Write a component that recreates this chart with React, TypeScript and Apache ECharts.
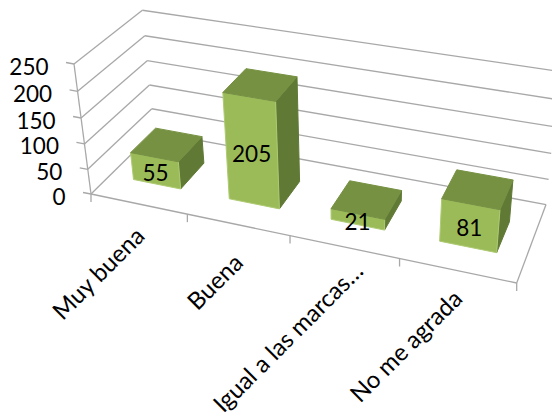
import React, { useEffect, useRef } from "react";
import * as echarts from "echarts";

const CATEGORIES = ["Muy buena", "Buena", "Igual a las marcas…", "No me agrada"];
const VALUES = [55, 205, 21, 81];
const Y_TICKS = [0, 50, 100, 150, 200, 250];

const WIDTH = 552;
const HEIGHT = 416;
const FONT = '22.5px Lato, "Open Sans", sans-serif';
const CATEGORY_FONT = '24px Lato, "Open Sans", sans-serif';

const GRID_COLOR = "#a8a8a8";
const FRONT_COLOR = "#9bbb59";
const FRONT_EDGE = "#aecb73";
const TOP_COLOR = "#769142";
const SIDE_COLOR = "#607a36";

// Projective camera for the chart box: u runs along the categories, v up the
// value axis and d from the front of the floor to the back wall (all 0..1).
const ORIGIN = [91, 194];
const U_END = [516.7, 283];
const V_END = [74, 64];
const D_END = [154, 132];
const P_U = -0.122;
const P_V = -0.062;
const P_D = 0.095;

const BAR_HALF_WIDTH = 0.25;
const BAR_DEPTH_FRONT = 0.29;
const BAR_DEPTH_BACK = 0.69;

// Fine placement of the slanted category texts relative to their slot centre.
const CATEGORY_TEXT_SHIFT = [
  [1, 27],
  [0, 33],
  [14, 19],
  [0, 23],
];

function project(u: number, v: number, d: number): number[] {
  const w = 1 + P_U * u + P_V * v + P_D * d;
  return [0, 1].map(
    (k) =>
      (ORIGIN[k] +
        u * ((1 + P_U) * U_END[k] - ORIGIN[k]) +
        v * ((1 + P_V) * V_END[k] - ORIGIN[k]) +
        d * ((1 + P_D) * D_END[k] - ORIGIN[k])) /
      w
  );
}

// Turns a category slot position and a value into fractions of the plot area,
// going through the chart's own scales.
function scaleToUnit(api: any, slot: number, slotShift: number, value: number) {
  const c = api.coord([slot, value]);
  const band = api.size([1, 0])[0];
  return { u: (c[0] + slotShift * band) / WIDTH, v: 1 - c[1] / HEIGHT };
}

function segment(a: number[], b: number[], width = 1.3) {
  return {
    type: "line",
    shape: { x1: a[0], y1: a[1], x2: b[0], y2: b[1] },
    style: { stroke: GRID_COLOR, lineWidth: width, fill: "none" },
  };
}

function face(points: number[][], fill: string, stroke = fill) {
  return {
    type: "polygon",
    shape: { points },
    style: { fill, stroke, lineWidth: 1 },
  };
}

function renderValueTick(_: any, api: any) {
  const { v } = scaleToUnit(api, 0, 0, api.value(1));
  const front = project(0, v, 0);
  const back = project(0, v, 1);
  const right = project(1, v, 1);
  return {
    type: "group",
    children: [
      segment(front, back),
      segment(back, right),
      segment(front, [front[0] - 8, front[1] - 1.5]),
      {
        type: "text",
        x: front[0] - 25.5,
        y: front[1] + 2,
        style: {
          text: String(api.value(1)),
          font: FONT,
          fill: "#000",
          textAlign: "right",
          textVerticalAlign: "middle",
        },
      },
    ],
  };
}

function renderFrame() {
  const frontLeft = project(0, 0, 0);
  const frontRight = project(1, 0, 0);
  const backRight = project(1, 0, 1);
  const topLeft = project(0, 1, 0);
  const children: any[] = [segment(frontLeft, frontRight), segment(frontRight, backRight), segment(frontLeft, topLeft)];
  for (let i = 0; i <= CATEGORIES.length; i++) {
    const p = project(i / CATEGORIES.length, 0, 0);
    children.push(segment(p, [p[0], p[1] + 8]));
  }
  return { type: "group", children };
}

function renderCategoryText(_: any, api: any) {
  const i = api.value(0);
  const { u } = scaleToUnit(api, i, 0, 0);
  const p = project(u, 0, 0);
  return {
    type: "text",
    x: p[0] + CATEGORY_TEXT_SHIFT[i][0],
    y: p[1] + CATEGORY_TEXT_SHIFT[i][1],
    rotation: Math.PI / 4,
    style: {
      text: CATEGORIES[i],
      font: CATEGORY_FONT,
      fill: "#000",
      textAlign: "right",
      textVerticalAlign: "middle",
    },
  };
}

function renderBar(_: any, api: any) {
  const i = api.value(0);
  const value = api.value(1);
  const left = scaleToUnit(api, i, -BAR_HALF_WIDTH, 0).u;
  const right = scaleToUnit(api, i, BAR_HALF_WIDTH, 0).u;
  const top = scaleToUnit(api, i, 0, value).v;
  const f = BAR_DEPTH_FRONT;
  const b = BAR_DEPTH_BACK;
  const label = project((left + right) / 2, top / 2, f);
  return {
    type: "group",
    children: [
      face([project(right, 0, f), project(right, 0, b), project(right, top, b), project(right, top, f)], SIDE_COLOR),
      face([project(left, 0, f), project(right, 0, f), project(right, top, f), project(left, top, f)], FRONT_COLOR, FRONT_EDGE),
      face([project(left, top, f), project(right, top, f), project(right, top, b), project(left, top, b)], TOP_COLOR),
      {
        type: "text",
        x: label[0],
        y: label[1] + 2,
        style: {
          text: String(value),
          font: FONT,
          fill: "#000",
          textAlign: "center",
          textVerticalAlign: "middle",
        },
      },
    ],
  };
}

export default function App() {
  const ref = useRef<HTMLDivElement>(null);

  useEffect(() => {
    const chart = echarts.init(ref.current!, undefined, { renderer: "svg" });
    chart.setOption({
      animation: false,
      backgroundColor: "#ffffff",
      grid: { left: 0, right: 0, top: 0, bottom: 0 },
      xAxis: { type: "category", data: CATEGORIES, show: false },
      yAxis: { type: "value", min: 0, max: 250, interval: 50, show: false },
      series: [
        {
          type: "custom",
          clip: false,
          renderItem: renderValueTick,
          data: Y_TICKS.map((t) => [0, t]),
          encode: { x: 0, y: 1 },
          silent: true,
        },
        {
          type: "custom",
          clip: false,
          renderItem: renderFrame,
          data: [[0, 0]],
          encode: { x: 0, y: 1 },
          silent: true,
        },
        {
          type: "custom",
          clip: false,
          renderItem: renderCategoryText,
          data: CATEGORIES.map((_, i) => [i, 0]),
          encode: { x: 0, y: 1 },
          silent: true,
        },
        {
          type: "custom",
          clip: false,
          renderItem: renderBar,
          data: VALUES.map((v, i) => [i, v]),
          encode: { x: 0, y: 1 },
          silent: true,
        },
      ],
    });
    return () => chart.dispose();
  }, []);

  return <div ref={ref} style={{ position: "absolute", left: 0, top: 0, width: WIDTH, height: HEIGHT }} />;
}
